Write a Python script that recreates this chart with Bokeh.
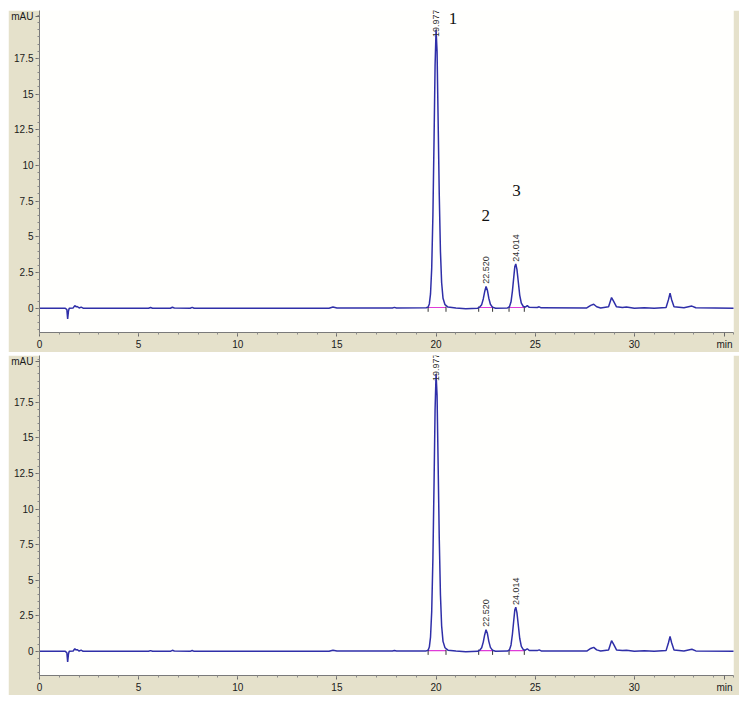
from bokeh.plotting import figure
from bokeh.layouts import column, row
from bokeh.models import FixedTicker, Range1d, Spacer, Label
from bokeh.core.properties import value
from bokeh.embed import file_html
from bokeh.resources import INLINE
import math

# ---- data ----
time_min = [0.0, 1.3, 1.38, 1.42, 1.46, 1.5, 1.7, 1.78, 1.84, 1.9, 2.0, 2.1, 2.2,
            5.5, 5.6, 5.7, 6.6, 6.7, 6.8, 7.6, 7.7, 7.8, 14.6, 14.8, 15.0,
            17.8, 17.9, 18.0, 19.5, 19.6, 19.66, 19.72, 19.78, 19.84, 19.9, 19.95,
            20.0, 20.05, 20.1, 20.16, 20.22, 20.28, 20.35, 20.45, 20.6, 21.0, 21.5,
            22.1, 22.2, 22.3, 22.38, 22.45, 22.52, 22.59, 22.66, 22.74, 22.84, 23.0,
            23.6, 23.7, 23.78, 23.85, 23.92, 23.97, 24.02, 24.08, 24.15, 24.22, 24.3,
            24.4, 24.5, 24.6, 24.7, 25.1, 25.2, 25.3, 27.6, 27.8, 27.95, 28.1, 28.3,
            28.7, 28.85, 28.95, 29.1, 29.4, 29.6, 30.0, 30.5, 31.0, 31.6, 31.72, 31.8,
            31.88, 32.0, 32.5, 32.9, 33.1, 35.05]
absorb_mau = [0.0, 0.0, -0.1, -0.75, -0.2, 0.0, 0.02, 0.18, 0.1, 0.12, 0.02, 0.08, 0.0,
              0.0, 0.05, 0.0, 0.0, 0.07, 0.02, 0.0, 0.06, 0.0, 0.0, 0.08, 0.02,
              0.02, 0.06, 0.02, 0.03, 0.08, 0.3, 1.0, 2.8, 6.5, 12.0, 17.0,
              19.5, 18.0, 13.5, 8.0, 4.0, 1.8, 0.7, 0.25, 0.08, 0.02, -0.03,
              0.0, 0.08, 0.25, 0.65, 1.15, 1.52, 1.25, 0.7, 0.28, 0.08, 0.0,
              0.02, 0.1, 0.45, 1.2, 2.2, 2.9, 3.1, 2.7, 1.8, 0.9, 0.35,
              0.12, 0.08, 0.18, 0.06, 0.05, 0.1, 0.03, 0.02, 0.2, 0.28, 0.1, 0.02,
              0.1, 0.75, 0.5, 0.1, 0.05, 0.08, 0.0, 0.04, 0.0, 0.05, 0.6, 1.05,
              0.6, 0.1, 0.03, 0.15, 0.03, 0.0]

peak_rt = [19.977, 22.520, 24.014]
peak_rt_labels = ["19.977", "22.520", "24.014"]
peak_height = [19.5, 1.52, 3.1]
integ_start = [19.6, 22.15, 23.68]
integ_end = [20.5, 22.85, 24.45]
peak_numbers = ["1", "2", "3"]

y_ticks = [0, 2.5, 5, 7.5, 10, 12.5, 15, 17.5, 20.4]
y_tick_labels = ["0", "2.5", "5", "7.5", "10", "12.5", "15", "17.5", "mAU"]
x_ticks = [0, 5, 10, 15, 20, 25, 30, 34.55]
x_tick_labels = ["0", "5", "10", "15", "20", "25", "30", "min"]

BEIGE = "#E5E1CB"
LINE = "#2F2FA8"
MAGENTA = "#E03CD8"
FONT = "Liberation Sans"


def make_fig(frame_h, y_top, numbered):
    p = figure(width=731, height=frame_h + 20, x_range=Range1d(0, 35.0), y_range=Range1d(-1.7, y_top),
               output_backend="svg", toolbar_location=None,
               min_border_left=27, min_border_right=6, min_border_top=0, min_border_bottom=20,
               border_fill_color=BEIGE, background_fill_color="#FFFFFD", outline_line_color=None)
    p.grid.visible = False
    p.xaxis.ticker = FixedTicker(ticks=x_ticks, minor_ticks=list(range(0, 36)))
    p.xaxis.major_label_overrides = {t: l for t, l in zip(x_ticks, x_tick_labels)}
    p.yaxis.ticker = FixedTicker(ticks=y_ticks, minor_ticks=[i * 0.5 for i in range(-3, 42)])
    p.yaxis.major_label_overrides = {t: l for t, l in zip(y_ticks, y_tick_labels)}
    for ax in (p.xaxis, p.yaxis):
        ax.axis_line_color = "#7a7a7a"
        ax.major_tick_line_color = "#6a6a6a"
        ax.minor_tick_line_color = "#8a8a8a"
        ax.major_tick_out = 4
        ax.major_tick_in = 0
        ax.minor_tick_out = 2
        ax.minor_tick_in = 0
        ax.major_label_text_font = FONT
        ax.major_label_text_font_size = "10px"
        ax.major_label_text_color = "#1a1a1a"
        ax.major_label_standoff = 2

    # integration baselines
    p.segment(x0=integ_start, y0=[0.05] * 3, x1=integ_end, y1=[0.05] * 3,
              line_color=MAGENTA, line_width=1.2)
    p.segment(x0=integ_start + integ_end, y0=[-0.25] * 6, x1=integ_start + integ_end, y1=[0.12] * 6,
              line_color="#333333", line_width=1)
    # trace
    p.line(time_min, absorb_mau, line_color=LINE, line_width=1.5)

    # retention-time labels
    label_y = [peak_height[0] - 0.5, peak_height[1] + 0.2, peak_height[2] + 0.15]
    p.text(x=peak_rt, y=label_y, text=peak_rt_labels, angle=math.pi / 2,
           text_align="left", text_baseline="middle",
           text_font=value(FONT), text_font_size="9px", text_color="#333333")

    if numbered:
        num_x = [20.85, 22.5, 24.05]
        num_y = [20.3, 6.5, 8.25]
        for nx, ny, nt in zip(num_x, num_y, peak_numbers):
            p.add_layout(Label(x=nx, y=ny, text=nt, text_align="center", text_baseline="middle",
                               text_font="Liberation Serif", text_font_size="17px",
                               text_color="#111111"))
    return p


p1 = make_fig(322, 20.85, True)
p2 = make_fig(320, 20.8, False)
layout = column(
    Spacer(width=10, height=10),
    row(Spacer(width=8, height=10), p1),
    Spacer(width=10, height=3),
    row(Spacer(width=8, height=10), p2),
)

open("out.html", "w").write(file_html(layout, INLINE))
